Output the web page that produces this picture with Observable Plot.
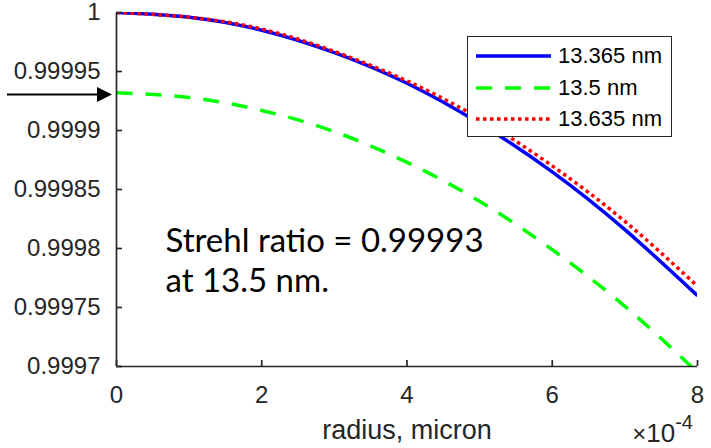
<!DOCTYPE html>
<html>
<head>
<meta charset="utf-8">
<script src="https://cdn.jsdelivr.net/npm/d3@7"></script>
<script src="https://cdn.jsdelivr.net/npm/@observablehq/plot@0.6"></script>
<style>
  html, body { margin: 0; padding: 0; background: #fff; }
  #wrap { position: relative; width: 711px; height: 448px; }
  #legend {
    position: absolute; left: 467px; top: 36px; width: 203px; height: 99px;
    border: 1px solid #262626; background: #fff; box-sizing: content-box;
    font-family: "Liberation Sans", Arial, sans-serif; font-size: 22px; color: #000;
  }
  .row { position: absolute; left: 0; height: 30px; display: flex; align-items: center; }
  .row svg { margin-left: 8px; margin-right: 7px; }
  #overlay { position: absolute; left: 0; top: 0; pointer-events: none; }
</style>
</head>
<body>
<div id="wrap"></div>
<script>
// ---- data ----
const radius = [0, 1, 2, 3, 4, 5, 6, 7, 8]; // ×10^-4 micron
const s13365 = [1.000000, 0.999996, 0.999985, 0.999966, 0.999940, 0.999906, 0.999865, 0.999816, 0.999760];
const s13500 = [0.999932, 0.999928, 0.999917, 0.999899, 0.999873, 0.999840, 0.999799, 0.999751, 0.999695];
const s13635 = [1.000000, 0.999996, 0.999986, 0.999967, 0.999942, 0.999910, 0.999870, 0.999823, 0.999768];
const seriesNames = ["13.365 nm", "13.5 nm", "13.635 nm"];
const seriesColors = ["#0000ff", "#00ff00", "#ff0000"];
const seriesDash = [null, "16,13", "3.5,3.5"];
const xTicks = [0, 2, 4, 6, 8];
const yTicks = [0.9997, 0.99975, 0.9998, 0.99985, 0.9999, 0.99995, 1];
const strehl = 0.99993;
const annotation = "Strehl ratio = 0.99993\nat 13.5 nm.";
const xLabel = "radius, micron";

const seriesValues = [s13365, s13500, s13635];
const rows = seriesValues.map((vals, i) => radius.map((r, j) => ({x: r, y: vals[j], s: seriesNames[i]})));

const axisColor = "#262626";
const lineMarks = rows.map((data, i) => Plot.lineY(data, {
  x: "x", y: "y", stroke: seriesColors[i], strokeWidth: 3.5,
  strokeDasharray: seriesDash[i], curve: "natural", clip: true, strokeLinecap: "butt"
}));

const plot = Plot.plot({
  width: 711, height: 448,
  marginLeft: 116, marginRight: 14, marginTop: 12, marginBottom: 82,
  x: {domain: [0, 8]},
  y: {domain: [0.9997, 1]},
  style: {fontFamily: "'Liberation Sans', Arial, sans-serif", fontSize: "24px", color: axisColor, background: "#fff", overflow: "visible"},
  marks: [
    ...lineMarks,
    Plot.ruleX([0], {stroke: axisColor, strokeWidth: 1.7}),
    Plot.ruleY([0.9997], {stroke: axisColor, strokeWidth: 1.7}),
    Plot.axisY(yTicks, {tickSize: -6, tickPadding: 22, strokeWidth: 1.7, stroke: axisColor, fill: axisColor,
      tickFormat: d => String(+d.toFixed(5)), label: null}),
    Plot.axisX(xTicks, {tickSize: -6, tickPadding: 25, strokeWidth: 1.7, stroke: axisColor, fill: axisColor,
      tickFormat: d => String(d), label: null}),
    Plot.text([xLabel], {frameAnchor: "bottom", lineAnchor: "top", dy: 53, fontSize: 27, fill: axisColor, text: d => d}),
    Plot.text([annotation], {frameAnchor: "top-left", lineAnchor: "top", textAnchor: "start", dx: 49, dy: 211,
      fontSize: 33, fontFamily: "Lato, 'Open Sans', sans-serif", lineHeight: 1.21, fill: "#000", text: d => d})
  ]
});

const wrap = document.getElementById("wrap");
wrap.appendChild(plot);

// legend (HTML overlay)
const legend = document.createElement("div");
legend.id = "legend";
seriesNames.forEach((name, i) => {
  const row = document.createElement("div");
  row.className = "row";
  row.style.top = (4 + i * 31.5) + "px";
  row.innerHTML = `<svg width="75" height="10"><line x1="0" x2="75" y1="5" y2="5" stroke="${seriesColors[i]}" stroke-width="3.5" ${seriesDash[i] ? `stroke-dasharray="${seriesDash[i]}"` : ""}/></svg><span>${name}</span>`;
  legend.appendChild(row);
});
wrap.appendChild(legend);

// arrow at the Strehl value + exponent label (overlay using the plot's scales)
const ys = plot.scale("y");
const xs = plot.scale("x");
const ya = ys.apply(strehl);
const x0 = xs.apply(0);
const x8 = xs.apply(8);
const ns = "http://www.w3.org/2000/svg";
const ov = document.createElementNS(ns, "svg");
ov.setAttribute("id", "overlay");
ov.setAttribute("width", 711);
ov.setAttribute("height", 448);
ov.innerHTML = `
  <line x1="7" x2="${x0 - 16}" y1="${ya}" y2="${ya}" stroke="#000" stroke-width="2"/>
  <path d="M${x0 - 4},${ya} L${x0 - 19},${ya - 7.5} L${x0 - 19},${ya + 7.5} Z" fill="#000"/>
  <text x="${x8 - 4}" y="442" text-anchor="end" font-family="'Liberation Sans', Arial, sans-serif" fill="${axisColor}" font-size="26"><tspan font-size="24">×</tspan>10<tspan dy="-13" font-size="20">-4</tspan></text>
`;
wrap.appendChild(ov);
</script>
</body>
</html>
